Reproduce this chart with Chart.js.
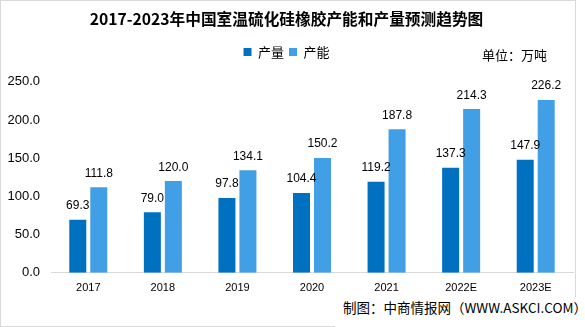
<!DOCTYPE html>
<html>
<head>
<meta charset="utf-8">
<script src="https://cdn.jsdelivr.net/npm/chart.js@4/dist/chart.umd.min.js"></script>
<style>
  html, body { margin: 0; padding: 0; background: #fff; overflow: hidden; }
  #wrap { position: relative; width: 585px; height: 327px; }
  #frame { position: absolute; left: 0; top: 0; width: 576px; height: 327px; box-sizing: border-box; border: 1px solid #d9d9d9; }
  #c { position: absolute; left: 0; top: 0; }
  #unit { position: absolute; left: 482px; top: 48px; font: 13px/14px "Noto Sans CJK SC", sans-serif; color: #000; white-space: nowrap; }
  #footer { position: absolute; left: 335px; top: 297px; width: 250px; height: 30px; background: #fff; }
  #footer span { position: absolute; left: 8px; top: 3px; font: 13.5px/15px "Noto Sans CJK SC", sans-serif; color: #000; white-space: nowrap; }
</style>
</head>
<body>
<div id="wrap">
  <div id="frame"></div>
  <canvas id="c" width="585" height="327"></canvas>
  <div id="unit">单位：万吨</div>
  <div id="footer"><span>制图：中商情报网（WWW.ASKCI.COM）</span></div>
</div>
<script>
const titleText = '2017-2023年中国室温硫化硅橡胶产能和产量预测趋势图';
const categories = ['2017', '2018', '2019', '2020', '2021', '2022E', '2023E'];
const seriesNames = ['产量', '产能'];
const outputValues = [69.3, 79.0, 97.8, 104.4, 119.2, 137.3, 147.9];
const capacityValues = [111.8, 120.0, 134.1, 150.2, 187.8, 214.3, 226.2];
const yTicks = [0, 50, 100, 150, 200, 250];

const darkBlue = '#0070C0';
const lightBlue = '#419FE6';

const valueLabels = {
  id: 'valueLabels',
  afterDatasetsDraw(chart) {
    const ctx = chart.ctx;
    ctx.save();
    ctx.font = '12px "Liberation Sans", Arial, sans-serif';
    ctx.fillStyle = '#000';
    ctx.textAlign = 'center';
    ctx.textBaseline = 'alphabetic';
    chart.data.datasets.forEach((ds, di) => {
      const meta = chart.getDatasetMeta(di);
      meta.data.forEach((bar, i) => {
        ctx.fillText(Number(ds.data[i]).toFixed(1), bar.x, bar.y - 10.5);
      });
    });
    ctx.restore();
  }
};

new Chart(document.getElementById('c'), {
  type: 'bar',
  data: {
    labels: categories,
    datasets: [
      { label: seriesNames[0], data: outputValues, backgroundColor: darkBlue, xAxisID: 'x', yAxisID: 'y',
        categoryPercentage: 0.563, barPercentage: 0.81 },
      { label: seriesNames[1], data: capacityValues, backgroundColor: lightBlue, xAxisID: 'x', yAxisID: 'y',
        categoryPercentage: 0.563, barPercentage: 0.81 }
    ]
  },
  options: {
    responsive: false,
    animation: false,
    devicePixelRatio: 1,
    layout: { padding: { left: 0, right: 12, top: 0, bottom: 30.3 } },
    plugins: {
      title: {
        display: true,
        text: titleText,
        color: '#000',
        font: { family: '"Noto Sans CJK SC", sans-serif', size: 15.7, weight: 'bold', lineHeight: 1.2 },
        padding: { top: 9.9, bottom: 11.8 }
      },
      legend: {
        display: true,
        position: 'top',
        labels: {
          boxWidth: 8,
          boxHeight: 8,
          padding: 5,
          color: '#000',
          font: { family: '"Noto Sans CJK SC", sans-serif', size: 13 }
        }
      },
      tooltip: { enabled: false }
    },
    scales: {
      x: {
        type: 'category',
        position: 'bottom',
        grid: { display: false, drawTicks: false },
        border: { display: true, color: '#d9d9d9', width: 1 },
        ticks: { color: '#000', padding: 8.7, font: { family: '"Liberation Sans", Arial, sans-serif', size: 11 } },
        afterFit(s) { s.height = 24; }
      },
      pad: {
        type: 'category',
        position: 'top',
        labels: [''],
        grid: { display: false, drawTicks: false },
        border: { display: false },
        ticks: { display: false },
        afterFit(s) { s.height = 13.2; }
      },
      y: {
        type: 'linear',
        position: 'left',
        min: yTicks[0],
        max: yTicks[yTicks.length - 1],
        grid: { display: false, drawTicks: false },
        border: { display: false },
        afterBuildTicks(s) { s.ticks = yTicks.map(v => ({ value: v })); },
        ticks: {
          color: '#000',
          padding: 11,
          font: { family: '"Liberation Sans", Arial, sans-serif', size: 13 },
          callback: v => Number(v).toFixed(1)
        },
        afterFit(s) { s.width = 51; }
      }
    }
  },
  plugins: [valueLabels]
});
</script>
</body>
</html>
